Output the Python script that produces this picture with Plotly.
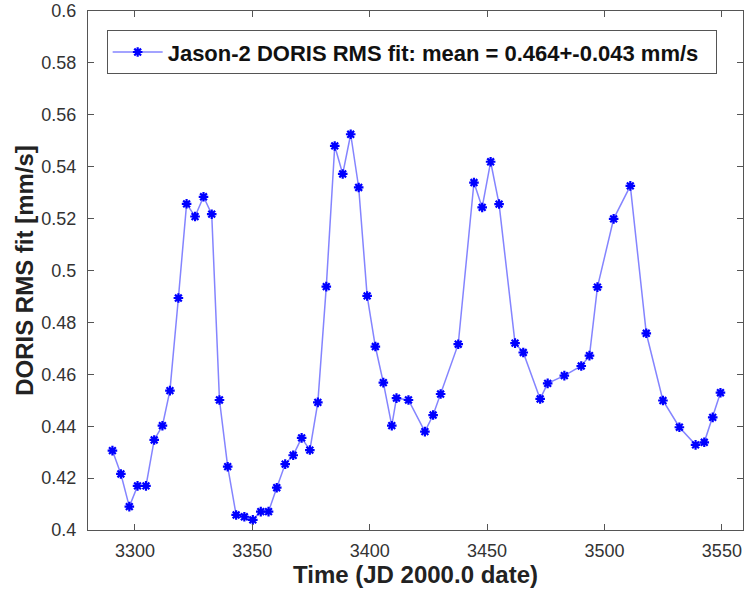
import plotly.graph_objects as go

# Jason-2 DORIS RMS fit
days = [3290.4, 3294.0, 3297.6, 3301.1, 3304.7, 3308.2, 3311.7, 3314.9, 3318.5, 3322.0,
        3325.6, 3329.2, 3332.7, 3336.0, 3339.5, 3343.1, 3346.6, 3350.2, 3353.6, 3356.9,
        3360.4, 3364.0, 3367.4, 3371.0, 3374.5, 3377.9, 3381.5, 3385.1, 3388.5, 3391.9,
        3395.3, 3398.9, 3402.4, 3405.8, 3409.4, 3411.4, 3416.5, 3423.5, 3427.0, 3430.2,
        3437.7, 3444.4, 3447.9, 3451.5, 3455.1, 3461.9, 3465.4, 3472.6, 3475.8, 3482.9,
        3490.1, 3493.6, 3497.0, 3503.9, 3511.0, 3517.8, 3524.9, 3531.9, 3538.8, 3542.5,
        3546.1, 3549.4]
rms = [0.4306, 0.4216, 0.4090, 0.4170, 0.4170, 0.4347, 0.4402, 0.4537, 0.4894, 0.5257,
       0.5208, 0.5284, 0.5217, 0.4501, 0.4244, 0.4058, 0.4051, 0.4039, 0.4071, 0.4071,
       0.4163, 0.4254, 0.4288, 0.4355, 0.4308, 0.4492, 0.4938, 0.5480, 0.5372, 0.5525,
       0.5320, 0.4902, 0.4707, 0.4568, 0.4402, 0.4508, 0.4501, 0.4379, 0.4443, 0.4524,
       0.4716, 0.5339, 0.5243, 0.5419, 0.5256, 0.4720, 0.4684, 0.4505, 0.4565, 0.4595,
       0.4632, 0.4672, 0.4936, 0.5199, 0.5326, 0.4758, 0.4499, 0.4396, 0.4328, 0.4338,
       0.4434, 0.4529]

label = "Jason-2 DORIS RMS fit: mean = 0.464+-0.043 mm/s"
font = "Liberation Sans, Arial, Helvetica, sans-serif"
linecol = "#555555"
textcol = "#333333"

fig = go.Figure()
fig.add_trace(go.Scatter(
    x=days, y=rms,
    mode="lines+markers",
    name="<b>" + label + "</b>&nbsp;&nbsp;",
    line=dict(color="rgba(50,50,255,0.6)", width=1.5),
    marker=dict(symbol="asterisk-open", size=8, color="blue",
                line=dict(color="blue", width=2.2)),
))

axis_common = dict(
    showline=True, linecolor=linecol, linewidth=1, mirror="ticks",
    ticks="inside", ticklen=6, tickcolor=linecol, showgrid=False, zeroline=False,
    tickfont=dict(family=font, size=18, color=textcol),
)

fig.update_layout(
    width=744, height=591,
    margin=dict(l=88, r=1, t=11, b=61),
    paper_bgcolor="white", plot_bgcolor="white",
    font=dict(family=font, color=textcol),
    xaxis=dict(range=[3280, 3559], dtick=50, tick0=3300, ticklabelstandoff=4,
               title=dict(text="<b>Time (JD 2000.0 date)</b>",
                          font=dict(size=24, color="#222222"), standoff=4),
               **axis_common),
    yaxis=dict(range=[0.4, 0.6], dtick=0.02, tick0=0.4, ticklabelstandoff=7,
               title=dict(text="<b>DORIS RMS fit [mm/s]</b>",
                          font=dict(size=24, color="#222222"), standoff=0),
               **axis_common),
    legend=dict(x=0.0285, y=0.963, xanchor="left", yanchor="top",
                bordercolor=linecol, borderwidth=1, bgcolor="white",
                font=dict(family=font, size=22, color="#111111"),
                itemwidth=50),
    showlegend=True,
)

# the page body has an 8px default margin; drop it so the figure sits at 0,0
fig.write_html("out.html", config={"displayModeBar": False},
               post_script="document.body.style.margin='0';")
